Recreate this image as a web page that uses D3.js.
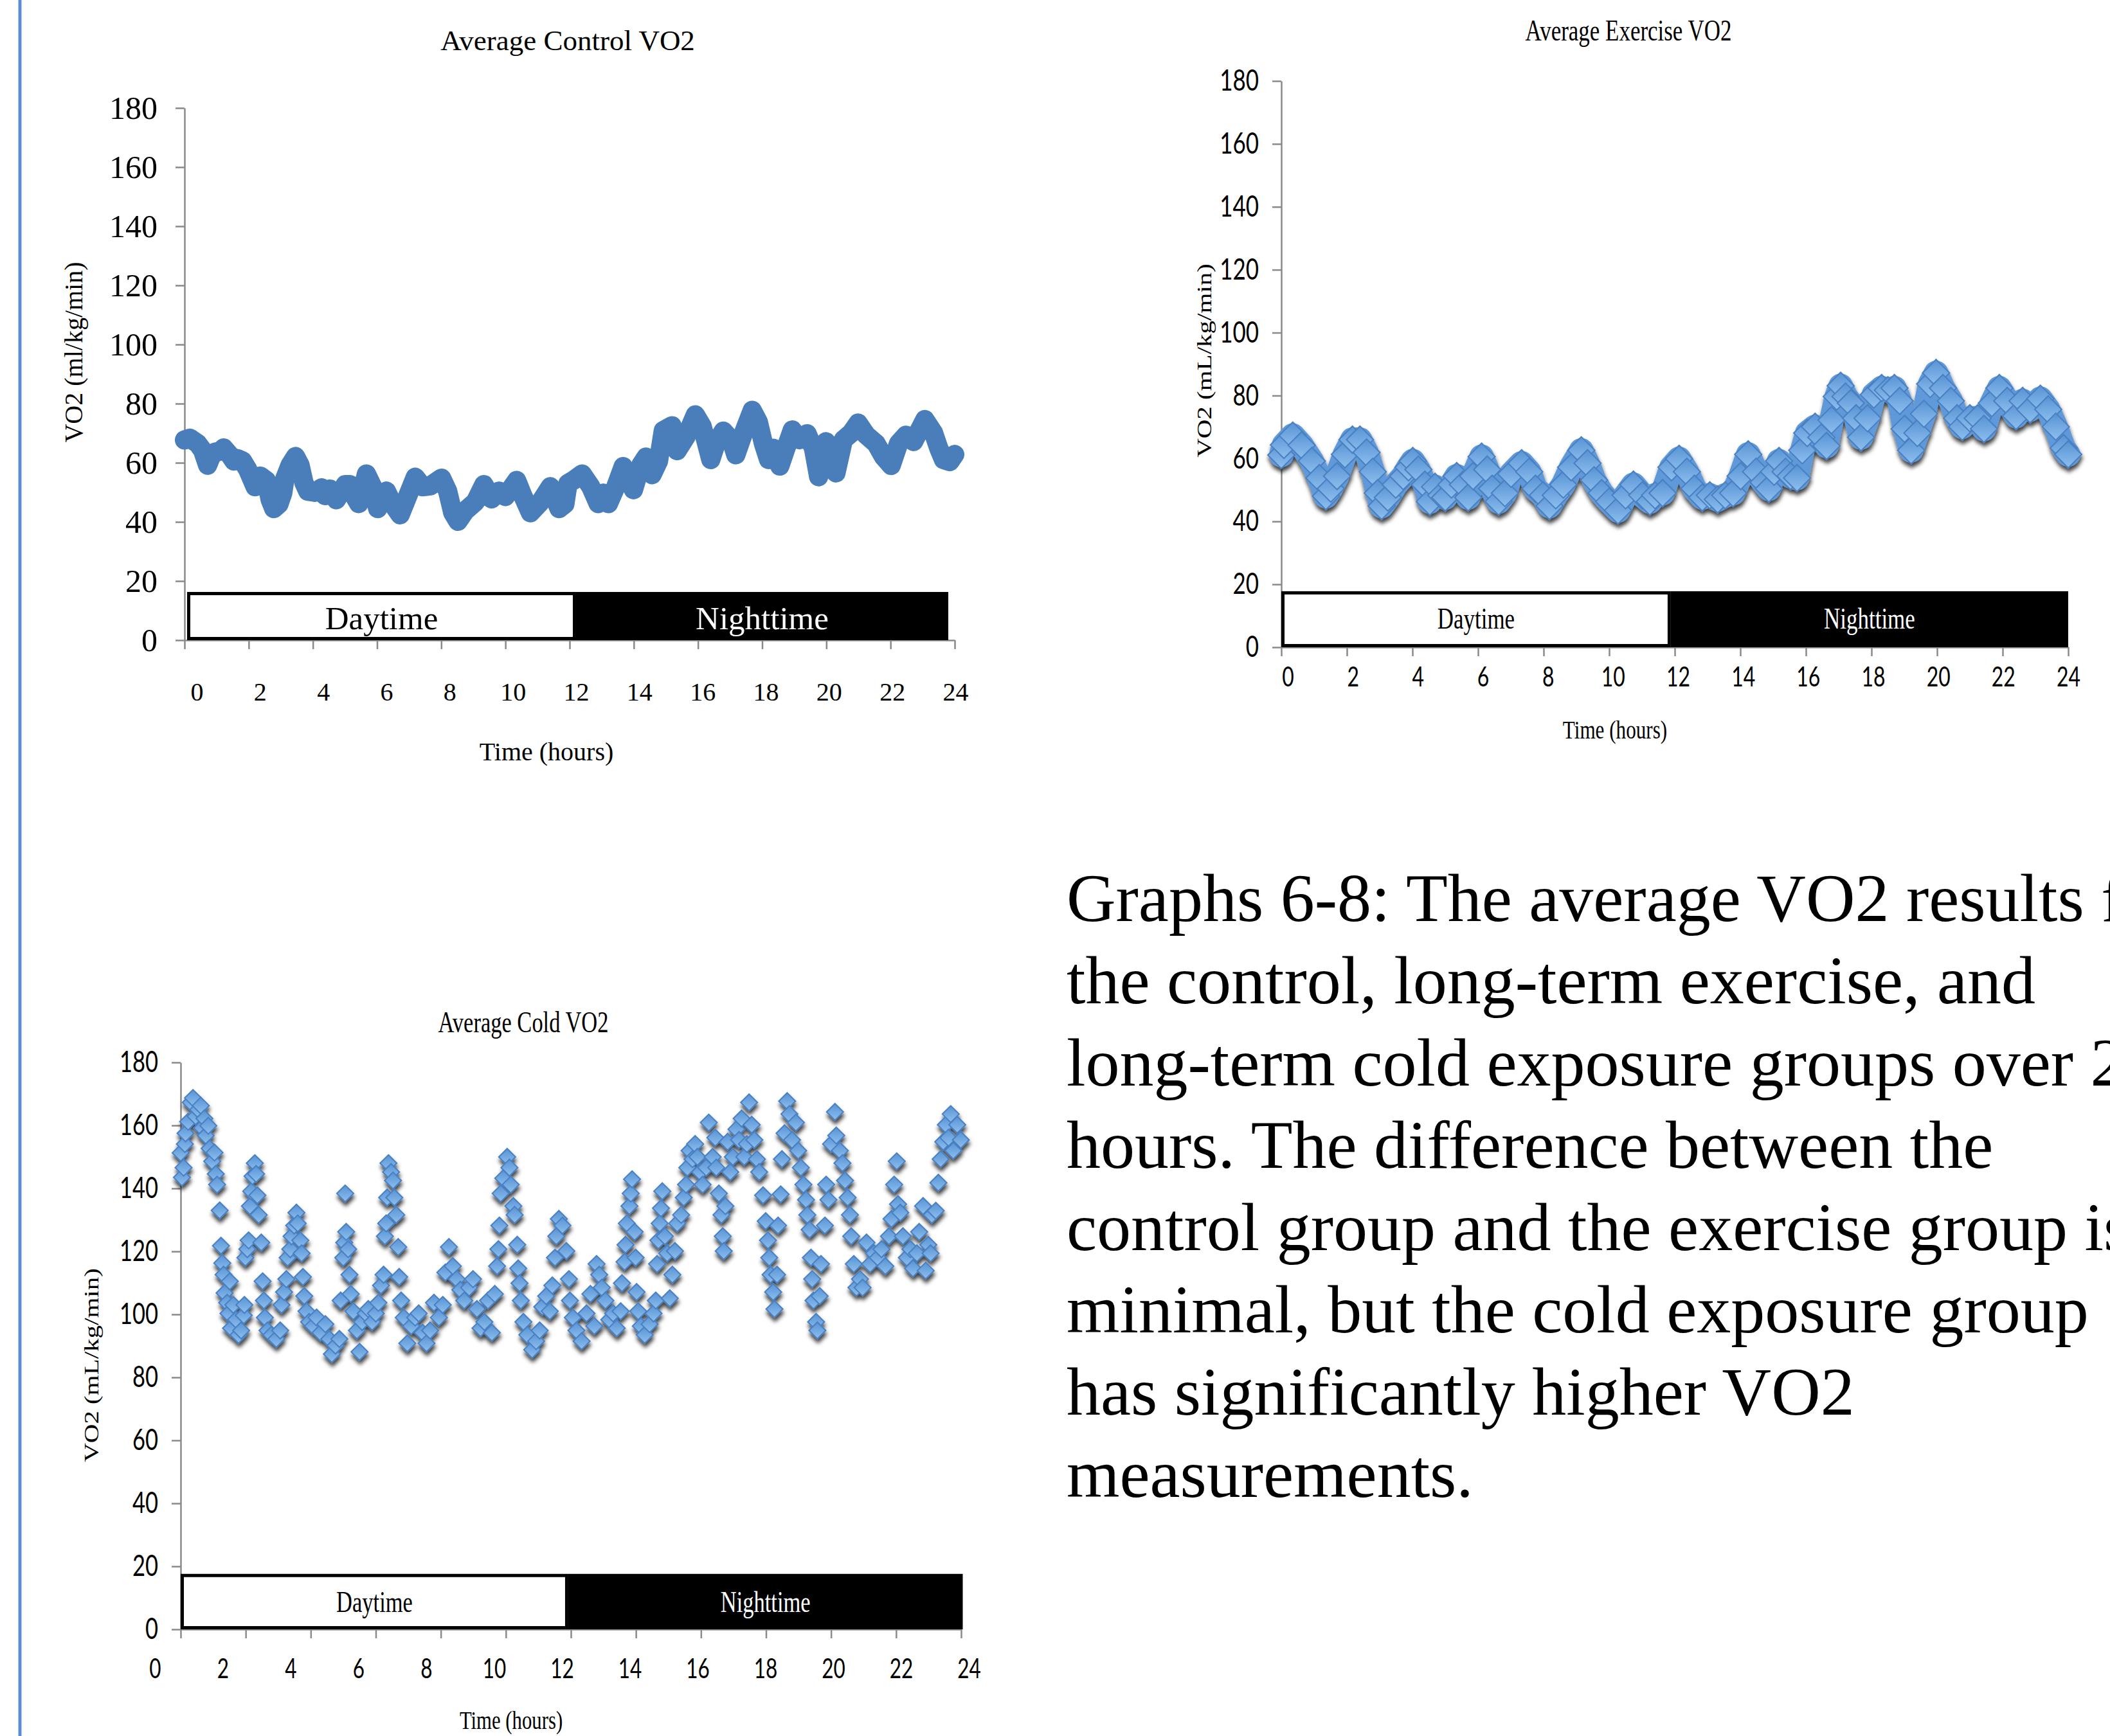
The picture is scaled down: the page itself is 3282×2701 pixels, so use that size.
<!DOCTYPE html>
<html>
<head>
<meta charset="utf-8">
<script src="https://cdn.jsdelivr.net/npm/d3@7"></script>
<style>
  html, body { margin: 0; padding: 0; background: #fff; }
  svg { display: block; }
</style>
</head>
<body>
<svg id="page" width="3282" height="2701"></svg>
<script>
// Tick values shared by the three graphs
const xTicks = [0, 2, 4, 6, 8, 10, 12, 14, 16, 18, 20, 22, 24];
const yTicks = [0, 20, 40, 60, 80, 100, 120, 140, 160, 180];

// [hour, VO2]
const controlVO2 = [
  [0.00, 67.7], [0.17, 68.3], [0.41, 66.5], [0.56, 64.3], [0.72, 59.2], [0.83, 62.1], [0.95, 63.6],
  [1.11, 63.9], [1.22, 65.0], [1.42, 62.5], [1.54, 60.6], [1.65, 61.4], [1.81, 60.6], [1.97, 57.7],
  [2.20, 51.9], [2.36, 55.5], [2.55, 54.0], [2.67, 47.5], [2.78, 44.5], [2.94, 46.0], [3.06, 49.7],
  [3.13, 54.8], [3.29, 59.2], [3.46, 62.1], [3.60, 59.2], [3.72, 53.3], [3.84, 50.4], [4.07, 50.0],
  [4.27, 51.5], [4.38, 48.9], [4.54, 51.1], [4.73, 47.5], [5.01, 52.6], [5.16, 52.6], [5.32, 48.2],
  [5.43, 46.2], [5.67, 56.2], [5.86, 51.9], [6.02, 44.5], [6.29, 50.4], [6.49, 46.0], [6.72, 42.4],
  [6.96, 48.9], [7.19, 55.1], [7.42, 51.9], [7.66, 52.2], [8.01, 54.8], [8.20, 50.4], [8.36, 43.1],
  [8.52, 40.2], [8.75, 43.8], [9.06, 46.7], [9.33, 52.6], [9.57, 47.8], [9.80, 50.4], [10.00, 48.6],
  [10.35, 54.0], [10.54, 48.9], [10.78, 43.1], [11.09, 46.7], [11.40, 51.9], [11.67, 44.5], [11.85, 46.0],
  [11.95, 53.0], [12.11, 54.0], [12.39, 56.2], [12.66, 51.9], [12.89, 46.2], [13.05, 49.7], [13.21, 46.2],
  [13.44, 51.9], [13.67, 58.7], [13.99, 50.9], [14.22, 59.2], [14.38, 61.9], [14.57, 56.0], [14.77, 60.6],
  [14.92, 70.9], [15.19, 72.5], [15.35, 64.1], [15.62, 68.7], [15.92, 76.2], [16.13, 72.3], [16.40, 61.1],
  [16.56, 66.5], [16.79, 70.7], [17.03, 67.8], [17.18, 62.7], [17.42, 70.1], [17.69, 77.7], [17.88, 73.8],
  [18.04, 66.5], [18.20, 61.1], [18.35, 64.9], [18.55, 58.9], [18.74, 64.9], [18.94, 71.1], [19.17, 67.8],
  [19.40, 69.8], [19.60, 64.9], [19.76, 55.3], [19.99, 67.1], [20.15, 60.6], [20.30, 56.6], [20.53, 67.8],
  [20.77, 70.0], [20.99, 73.4], [21.24, 69.4], [21.55, 66.5], [21.78, 62.1], [22.02, 59.1], [22.25, 66.5],
  [22.48, 69.3], [22.72, 67.2], [23.07, 74.6], [23.34, 70.1], [23.50, 65.0], [23.65, 61.1], [23.85, 60.4],
  [24.00, 62.8]
];

const exerciseVO2 = [
  [0.00, 61.1], [0.08, 64.3], [0.35, 67.3], [0.62, 64.2], [0.93, 59.2], [1.16, 53.8], [1.36, 48.0],
  [1.51, 50.4], [1.70, 54.4], [1.94, 61.3], [2.17, 66.0], [2.40, 66.0], [2.60, 61.9], [2.79, 55.8],
  [2.94, 49.0], [3.06, 44.9], [3.25, 47.6], [3.49, 51.7], [3.72, 54.4], [3.88, 57.2], [4.01, 59.2],
  [4.18, 56.5], [4.38, 51.7], [4.53, 46.3], [4.69, 51.0], [4.88, 48.3], [5.00, 47.6], [5.19, 51.7],
  [5.35, 54.4], [5.54, 51.7], [5.70, 47.6], [5.85, 54.4], [6.11, 60.6], [6.28, 56.5], [6.43, 50.4],
  [6.63, 46.3], [6.82, 49.0], [7.01, 55.1], [7.33, 58.5], [7.56, 55.8], [7.75, 50.4], [7.98, 48.3],
  [8.18, 44.9], [8.37, 48.3], [8.60, 51.7], [8.84, 57.2], [9.15, 62.6], [9.34, 58.5], [9.54, 53.1],
  [9.77, 49.0], [10.00, 46.3], [10.27, 43.5], [10.50, 48.3], [10.74, 51.7], [11.01, 48.3], [11.24, 46.3],
  [11.40, 48.3], [11.63, 49.0], [11.90, 57.2], [12.13, 59.9], [12.37, 55.8], [12.60, 50.4], [12.84, 47.6],
  [13.07, 48.3], [13.31, 47.0], [13.54, 48.3], [13.78, 49.0], [14.01, 54.4], [14.24, 61.3], [14.48, 55.8],
  [14.71, 52.4], [14.87, 50.4], [15.03, 55.8], [15.18, 59.2], [15.38, 55.8], [15.53, 54.4], [15.73, 53.8],
  [15.89, 62.6], [16.04, 68.1], [16.28, 70.1], [16.47, 66.7], [16.63, 64.0], [16.78, 72.2], [16.94, 79.7],
  [17.06, 83.1], [17.21, 79.7], [17.37, 77.6], [17.53, 72.8], [17.68, 66.7], [17.88, 72.8], [18.07, 80.3],
  [18.31, 82.4], [18.50, 81.7], [18.70, 82.4], [18.86, 78.3], [19.01, 69.4], [19.21, 62.6], [19.40, 68.1],
  [19.60, 74.2], [19.79, 83.7], [19.97, 87.2], [20.18, 82.4], [20.42, 78.3], [20.61, 72.8], [20.77, 70.1],
  [21.00, 72.8], [21.24, 72.8], [21.43, 69.4], [21.67, 77.6], [21.90, 82.4], [22.14, 78.3], [22.41, 73.5],
  [22.61, 78.3], [22.84, 75.6], [23.15, 79.0], [23.39, 75.6], [23.62, 70.1], [23.86, 63.3], [24.00, 61.3]
];

const coldVO2 = [
  [0.00, 151.3], [0.04, 143.5], [0.09, 146.6], [0.13, 154.1], [0.15, 157.5], [0.23, 161.2], [0.31, 167.3],
  [0.38, 168.7], [0.46, 162.9], [0.54, 165.0], [0.62, 166.3], [0.66, 159.2], [0.73, 162.2], [0.77, 156.8],
  [0.85, 159.9], [0.89, 152.7], [0.97, 148.6], [1.04, 151.4], [1.08, 144.6], [1.12, 141.2], [1.20, 133.0],
  [1.24, 121.8], [1.28, 116.3], [1.32, 112.6], [1.35, 106.8], [1.43, 103.7], [1.47, 100.3], [1.51, 110.5],
  [1.55, 95.6], [1.62, 103.0], [1.70, 98.3], [1.78, 93.5], [1.86, 94.9], [1.94, 99.7], [1.96, 103.0],
  [1.99, 118.0], [2.05, 120.7], [2.09, 123.5], [2.13, 134.4], [2.17, 139.1], [2.21, 143.9], [2.28, 148.0],
  [2.32, 144.6], [2.36, 137.8], [2.40, 131.6], [2.48, 122.8], [2.52, 110.5], [2.56, 104.4], [2.59, 99.0],
  [2.67, 94.9], [2.79, 93.5], [2.94, 92.2], [3.06, 94.9], [3.10, 103.0], [3.18, 107.1], [3.25, 111.2],
  [3.29, 118.0], [3.37, 120.7], [3.41, 124.8], [3.49, 128.2], [3.56, 132.3], [3.60, 128.9], [3.68, 123.5],
  [3.72, 119.4], [3.76, 111.9], [3.80, 105.8], [3.87, 101.0], [3.95, 97.6], [4.07, 96.3], [4.18, 99.0],
  [4.30, 94.2], [4.45, 96.9], [4.57, 92.2], [4.65, 87.4], [4.76, 90.1], [4.88, 92.2], [4.92, 104.4],
  [5.00, 118.0], [5.03, 122.8], [5.06, 138.4], [5.09, 126.2], [5.15, 120.7], [5.19, 112.6], [5.23, 106.5],
  [5.31, 101.0], [5.42, 94.9], [5.50, 88.1], [5.58, 97.6], [5.69, 100.3], [5.77, 101.7], [5.89, 97.6],
  [6.00, 100.3], [6.08, 103.7], [6.16, 109.2], [6.24, 112.6], [6.28, 124.8], [6.32, 128.9], [6.35, 137.1],
  [6.39, 148.0], [6.47, 145.2], [6.53, 142.5], [6.57, 137.1], [6.63, 131.6], [6.69, 121.4], [6.72, 111.9],
  [6.78, 104.4], [6.86, 99.0], [6.97, 90.8], [7.09, 96.3], [7.21, 99.0], [7.32, 100.3], [7.44, 94.2],
  [7.56, 90.8], [7.67, 94.9], [7.79, 103.7], [7.94, 99.0], [8.06, 103.0], [8.14, 113.3], [8.25, 121.4],
  [8.37, 115.3], [8.49, 111.2], [8.60, 107.8], [8.72, 104.4], [8.87, 108.5], [8.99, 111.2], [9.11, 101.7],
  [9.22, 95.6], [9.34, 97.6], [9.45, 104.4], [9.57, 94.2], [9.66, 106.5], [9.73, 115.3], [9.77, 120.7],
  [9.80, 128.2], [9.84, 138.4], [9.92, 143.2], [10.04, 150.0], [10.11, 146.6], [10.15, 141.2], [10.23, 134.4],
  [10.27, 131.6], [10.35, 122.1], [10.38, 114.6], [10.42, 109.9], [10.46, 104.4], [10.54, 97.6], [10.66, 93.5],
  [10.81, 88.8], [10.93, 91.5], [11.04, 94.9], [11.12, 102.4], [11.24, 105.8], [11.35, 101.0], [11.43, 109.2],
  [11.51, 118.0], [11.55, 124.8], [11.63, 130.3], [11.74, 128.2], [11.86, 120.1], [11.94, 111.2], [11.97, 104.4],
  [12.06, 99.0], [12.17, 94.9], [12.33, 91.5], [12.48, 100.3], [12.60, 106.5], [12.72, 96.3], [12.79, 116.0],
  [12.87, 112.6], [12.95, 108.5], [13.06, 104.4], [13.18, 98.3], [13.30, 100.3], [13.41, 95.6], [13.53, 101.0],
  [13.57, 109.9], [13.65, 116.7], [13.68, 122.1], [13.72, 128.9], [13.80, 134.4], [13.84, 138.4], [13.88, 142.9],
  [13.96, 126.2], [13.99, 118.0], [14.02, 107.1], [14.07, 101.0], [14.15, 96.3], [14.27, 93.5], [14.42, 96.9],
  [14.54, 100.3], [14.61, 104.4], [14.65, 116.0], [14.69, 123.5], [14.73, 128.9], [14.77, 133.7], [14.81, 139.1],
  [14.89, 124.8], [14.96, 119.4], [15.04, 105.1], [15.12, 112.6], [15.20, 120.1], [15.27, 128.9], [15.39, 131.6],
  [15.47, 137.1], [15.54, 141.2], [15.58, 146.6], [15.65, 152.0], [15.74, 149.3], [15.82, 154.1], [15.89, 150.0],
  [15.97, 145.2], [16.05, 141.2], [16.16, 146.6], [16.24, 160.9], [16.36, 150.0], [16.44, 156.1], [16.47, 146.6],
  [16.55, 138.4], [16.63, 131.6], [16.67, 124.8], [16.70, 120.1], [16.75, 134.4], [16.82, 154.8], [16.90, 145.2],
  [16.98, 150.0], [17.09, 158.8], [17.17, 155.4], [17.25, 162.2], [17.33, 150.0], [17.41, 154.1], [17.48, 167.3],
  [17.56, 160.2], [17.64, 155.4], [17.72, 149.3], [17.79, 145.2], [17.91, 137.8], [17.99, 129.6], [18.06, 123.5],
  [18.10, 118.0], [18.14, 112.6], [18.22, 107.1], [18.26, 101.7], [18.34, 112.6], [18.37, 128.2], [18.45, 138.1],
  [18.49, 149.3], [18.57, 157.5], [18.65, 167.7], [18.72, 163.6], [18.80, 155.4], [18.92, 160.9], [18.99, 152.0],
  [19.07, 146.6], [19.15, 141.2], [19.23, 136.4], [19.27, 131.6], [19.34, 126.9], [19.38, 118.0], [19.42, 111.2],
  [19.46, 104.4], [19.54, 97.6], [19.58, 94.9], [19.65, 105.8], [19.69, 116.0], [19.81, 128.2], [19.85, 141.2],
  [19.92, 136.4], [20.00, 154.1], [20.12, 164.3], [20.16, 156.8], [20.27, 152.0], [20.35, 148.0], [20.43, 142.5],
  [20.51, 137.1], [20.58, 131.6], [20.62, 124.8], [20.70, 116.0], [20.78, 108.5], [20.89, 111.2], [20.97, 108.5],
  [21.09, 122.8], [21.20, 116.0], [21.32, 119.4], [21.44, 118.0], [21.55, 120.7], [21.67, 115.3], [21.78, 124.8],
  [21.86, 130.3], [21.94, 141.2], [22.02, 148.6], [22.06, 135.0], [22.13, 132.3], [22.21, 124.8], [22.33, 118.0],
  [22.44, 120.7], [22.52, 114.6], [22.64, 119.4], [22.71, 126.2], [22.83, 134.4], [22.91, 113.9], [22.99, 122.1],
  [23.06, 119.4], [23.10, 131.6], [23.22, 132.9], [23.30, 141.8], [23.37, 149.3], [23.45, 154.8], [23.53, 160.2],
  [23.61, 156.1], [23.68, 163.6], [23.76, 152.0], [23.88, 160.2], [23.99, 155.4]
];

// Day / night strips at the foot of each graph: [label, from hour, to hour]
const controlBands = [["Daytime", 0.08, 12.2], ["Nighttime", 12.2, 23.8]];
const exerciseBands = [["Daytime", 0.0, 11.88], ["Nighttime", 11.88, 24.0]];
const coldBands = [["Daytime", 0.0, 11.92], ["Nighttime", 11.92, 24.05]];
const bandTops = [16.3, 17.8, 17.6];

const captionLines = [
  "Graphs 6-8: The average VO2 results for",
  "the control, long-term exercise, and",
  "long-term cold exposure groups over 24",
  "hours. The difference between the",
  "control group and the exercise group is",
  "minimal, but the cold exposure group",
  "has significantly higher VO2",
  "measurements."
];

const SERIF = '"Liberation Serif", "Times New Roman", serif';
const SANS = 'Lato, "Open Sans", sans-serif';

const page = d3.select("#page");
const defs = page.append("defs");

const grad = defs.append("linearGradient").attr("id", "gem")
  .attr("x1", 0).attr("y1", 0).attr("x2", 0).attr("y2", 1);
grad.append("stop").attr("offset", "0%").attr("stop-color", "#5792d4");
grad.append("stop").attr("offset", "100%").attr("stop-color", "#8ec0ef");

defs.append("filter").attr("id", "shadow")
  .attr("x", "-10%").attr("y", "-10%").attr("width", "120%").attr("height", "130%")
  .append("feDropShadow")
  .attr("dx", 1).attr("dy", 6).attr("stdDeviation", 3)
  .attr("flood-color", "#000").attr("flood-opacity", 0.75);

// left margin rule
page.append("line")
  .attr("x1", 31).attr("x2", 31).attr("y1", 0).attr("y2", 2701)
  .attr("stroke", "#5b8fd4").attr("stroke-width", 5);

function diamond(w, h) {
  return `M0,${-h}L${w},0L0,${h}L${-w},0Z`;
}

// squeezed text helper (graphs 2 and 3 were pasted in horizontally squashed)
function label(g, str, x, y, opt) {
  const sx = opt.sx || 1;
  let tf = `translate(${x},${y}) scale(${sx},1)`;
  if (opt.rotate) tf += " rotate(-90)";
  return g.append("text")
    .attr("transform", tf)
    .attr("text-anchor", "middle")
    .attr("font-family", opt.font || SERIF)
    .attr("font-size", opt.size)
    .attr("fill", opt.fill || "#000")
    .text(str);
}

const panels = [
  {
    title: "Average Control VO2", yTitle: "VO2 (ml/kg/min)", data: controlVO2, bands: controlBands, bandTop: bandTops[0],
    left: 287, right: 1485, bottom: 996, top: 168, labels: [306, 1486],
    sx: 1, tickFont: SERIF, yTickSize: 50, xTickSize: 40, yTickGap: 42, xTickPad: 66,
    titlePos: [883, 78], xTitlePos: [850, 1183], yTitlePos: [128, 548], titleSize: 45, axisTitleSize: 40,
    bandSize: 51, bandTextY: 979, style: "band", color: "#4a7ebb", half: 15, lineW: 30
  },
  {
    title: "Average Exercise VO2", yTitle: "VO2 (mL/kg/min)", data: exerciseVO2, bands: exerciseBands, bandTop: bandTops[1],
    left: 1993, right: 3217, bottom: 1007, top: 126, labels: [2003, 3217],
    sx: 0.76, tickFont: SANS, yTickSize: 46, xTickSize: 42, yTickGap: 35, xTickPad: 31,
    titlePos: [2533, 63], xTitlePos: [2512, 1149], yTitlePos: [1884, 561], titleSize: 46, axisTitleSize: 41,
    bandSize: 46, bandTextY: 978, style: "gemband", color: "#5f99da", half: 21, lineW: 38
  },
  {
    title: "Average Cold VO2", yTitle: "VO2 (mL/kg/min)", data: coldVO2, bands: coldBands, bandTop: bandTops[2],
    left: 281, right: 1495, bottom: 2535, top: 1653, labels: [241, 1507],
    sx: 0.75, tickFont: SANS, yTickSize: 46, xTickSize: 42, yTickGap: 35, xTickPad: 46,
    titlePos: [814, 1606], xTitlePos: [795, 2690], yTitlePos: [153, 2124], titleSize: 46, axisTitleSize: 41,
    bandSize: 46, bandTextY: 2508, style: "gems", color: "#5f99da", half: 13, lineW: 0
  }
];

panels.forEach(p => {
  const g = page.append("g");
  const x = d3.scaleLinear().domain([0, 24]).range([p.left, p.right]);
  const y = d3.scaleLinear().domain([0, 180]).range([p.bottom, p.top]);
  const xLab = d3.scaleLinear().domain([0, 24]).range(p.labels);

  // axes
  const yAxis = g.append("g")
    .attr("transform", `translate(${p.left},0)`)
    .call(d3.axisLeft(y).tickValues(yTicks).tickSize(14).tickSizeOuter(0));
  const xAxis = g.append("g")
    .attr("transform", `translate(0,${p.bottom})`)
    .call(d3.axisBottom(x).tickValues(xTicks).tickSize(14).tickSizeOuter(0).tickFormat(""));
  [yAxis, xAxis].forEach(a => {
    a.attr("color", "#8a8a8a");
    a.selectAll("path, line").attr("stroke-width", 2.5);
  });
  yAxis.selectAll("text")
    .attr("x", -p.yTickGap / p.sx)
    .attr("transform", `scale(${p.sx},1)`)
    .attr("fill", "#000");
  yAxis.attr("font-family", p.tickFont).attr("font-size", p.yTickSize);

  const xLabels = g.append("g")
    .attr("transform", `translate(0,${p.bottom})`)
    .call(d3.axisBottom(xLab).tickValues(xTicks).tickSize(0).tickPadding(p.xTickPad));
  xLabels.select(".domain").remove();
  xLabels.attr("font-family", p.tickFont).attr("font-size", p.xTickSize);
  xLabels.selectAll("text").attr("fill", "#000").attr("transform", `scale(${p.sx},1)`);

  // day / night strip
  const strip = g.append("g");
  const yt = y(p.bandTop), yb = y(0);
  const bw = 5;
  p.bands.slice().reverse().forEach(([name, from, to]) => {
    const day = name === "Daytime";
    strip.append("rect")
      .attr("x", x(from) + (day ? bw / 2 : 0))
      .attr("y", yt + (day ? bw / 2 : 0))
      .attr("width", x(to) - x(from) - (day ? bw : 0))
      .attr("height", yb - yt - (day ? bw : 0))
      .attr("fill", day ? "#fff" : "#000")
      .attr("stroke", day ? "#000" : "none")
      .attr("stroke-width", bw);
    label(strip, name, (x(from) + x(to)) / 2, p.bandTextY,
      { sx: p.sx, size: p.bandSize, fill: day ? "#000" : "#fff" });
  });

  // data marks
  const marks = g.append("g");
  if (p.style !== "band") marks.attr("filter", "url(#shadow)");
  if (p.lineW > 0) {
    marks.append("path")
      .datum(p.data)
      .attr("d", d3.line().x(d => x(d[0])).y(d => y(d[1])))
      .attr("fill", "none")
      .attr("stroke", p.color)
      .attr("stroke-width", p.lineW)
      .attr("stroke-linejoin", "round")
      .attr("stroke-linecap", "round");
  }
  marks.selectAll("path.pt")
    .data(p.data)
    .enter().append("path")
    .attr("class", "pt")
    .attr("transform", d => `translate(${x(d[0])},${y(d[1])})`)
    .attr("d", diamond(p.half, p.half))
    .attr("fill", p.style === "band" ? p.color : "url(#gem)")
    .attr("stroke", p.style === "band" ? "none" : "#4a80c2")
    .attr("stroke-width", 2);

  // titles
  label(g, p.title, p.titlePos[0], p.titlePos[1], { sx: p.sx, size: p.titleSize });
  label(g, "Time (hours)", p.xTitlePos[0], p.xTitlePos[1], { sx: p.sx, size: p.axisTitleSize });
  label(g, p.yTitle, p.yTitlePos[0], p.yTitlePos[1], { sx: p.sx, size: p.axisTitleSize, rotate: true });
});

// caption on the right (runs past the right edge, as in the original)
page.append("g").selectAll("text")
  .data(captionLines)
  .enter().append("text")
  .attr("x", 1659)
  .attr("y", (d, i) => 1433 + i * 128)
  .attr("font-family", SERIF)
  .attr("font-size", 106)
  .attr("fill", "#000")
  .text(d => d);
</script>
</body>
</html>
